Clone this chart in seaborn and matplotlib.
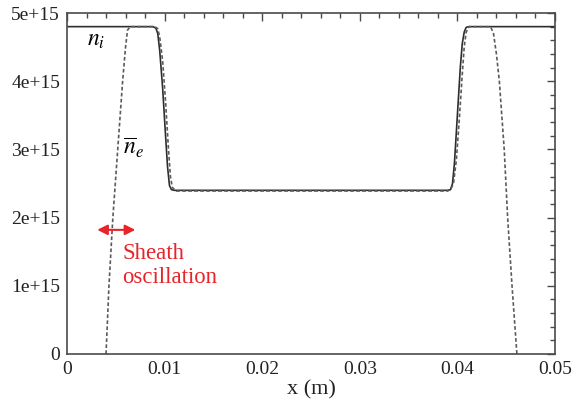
import matplotlib
matplotlib.use("Agg")
import matplotlib.pyplot as plt
import seaborn as sns
from matplotlib.ticker import MultipleLocator, FixedLocator, FixedFormatter

# Ion density n_i across the discharge gap (solid line)
x_ion = [0.0, 0.0088, 0.0091, 0.0093, 0.0095, 0.0098, 0.0101, 0.0103, 0.0105,
         0.0107, 0.0110, 0.0390, 0.0393, 0.0395, 0.0397, 0.0400, 0.0403,
         0.0405, 0.0407, 0.0409, 0.0412, 0.0500]
n_ion = [4.8e15, 4.8e15, 4.78e15, 4.7e15, 4.45e15, 3.9e15, 3.2e15, 2.75e15,
         2.47e15, 2.41e15, 2.4e15, 2.4e15, 2.41e15, 2.5e15, 2.8e15, 3.5e15,
         4.2e15, 4.55e15, 4.72e15, 4.79e15, 4.8e15, 4.8e15]

# Time-averaged electron density (dashed line)
x_elec = [0.0040, 0.0043, 0.0047, 0.0052, 0.0057, 0.0060, 0.0062, 0.0065,
          0.0090, 0.0093, 0.0095, 0.0098, 0.0101, 0.0104, 0.0106, 0.0108,
          0.0112, 0.0390, 0.0393, 0.0396, 0.0399, 0.0402, 0.0405, 0.0407,
          0.0409, 0.0412, 0.0434, 0.0437, 0.0440, 0.0443, 0.0448, 0.04515,
          0.0456, 0.0461]
n_elec = [0.0, 1.0e15, 2.0e15, 3.0e15, 4.0e15, 4.5e15, 4.75e15, 4.8e15,
          4.8e15, 4.77e15, 4.65e15, 4.3e15, 3.7e15, 3.0e15, 2.6e15, 2.44e15,
          2.39e15, 2.39e15, 2.41e15, 2.5e15, 2.85e15, 3.45e15, 4.1e15,
          4.5e15, 4.72e15, 4.8e15, 4.8e15, 4.7e15, 4.4e15, 4.0e15, 3.0e15,
          2.0e15, 1.0e15, 0.0]

x_ticks = [0.0, 0.01, 0.02, 0.03, 0.04, 0.05]
x_tick_labels = ["0", "0.01", "0.02", "0.03", "0.04", "0.05"]
y_ticks = [0.0, 1e15, 2e15, 3e15, 4e15, 5e15]
y_tick_labels = ["0", "1e+15", "2e+15", "3e+15", "4e+15", "5e+15"]

sns.set_style("white")
plt.rcParams["font.family"] = ["Liberation Serif", "DejaVu Serif"]
plt.rcParams["mathtext.fontset"] = "stix"

fig = plt.figure(figsize=(5.79, 4.04), dpi=100)
ax = fig.add_axes([0.1157, 0.1238, 0.8428, 0.844])

axis_col = "#4a4a4a"
sns.lineplot(x=x_ion, y=n_ion, ax=ax, color="#2e2e2e", linewidth=1.2,
             sort=False, estimator=None)
sns.lineplot(x=x_elec, y=n_elec, ax=ax, color="#5a5a5a", linewidth=1.2,
             linestyle=(0, (2.2, 1.4)), sort=False, estimator=None)

ax.set_xlim(0, 0.05)
ax.set_ylim(0, 5e15)
ax.xaxis.set_major_locator(FixedLocator(x_ticks))
ax.xaxis.set_major_formatter(FixedFormatter(x_tick_labels))
ax.yaxis.set_major_locator(FixedLocator(y_ticks))
ax.yaxis.set_major_formatter(FixedFormatter(y_tick_labels))
ax.xaxis.set_minor_locator(MultipleLocator(0.002))
ax.yaxis.set_minor_locator(MultipleLocator(0.2e15))

ax.tick_params(which="both", direction="in", top=True, right=True,
               color=axis_col, width=1.0, labelsize=14, labelcolor="#222222")
ax.tick_params(which="major", length=6, pad=5)
ax.tick_params(which="minor", length=3.5)
for sp in ax.spines.values():
    sp.set_color(axis_col)
    sp.set_linewidth(1.2)

ax.set_xlabel("x (m)", fontsize=16, color="#222222", labelpad=2)
ax.set_ylabel("")

ax.text(0.0021, 4.6e15, r"$n_i$", fontsize=17, color="black",
        ha="left", va="center")
ax.text(0.0057, 3.02e15, r"$\overline{n}_e$", fontsize=17, color="black",
        ha="left", va="center")

red = "#e8232a"
ax.annotate("", xy=(0.0031, 1.82e15), xytext=(0.0070, 1.82e15),
            arrowprops=dict(arrowstyle="<|-|>", color=red, lw=1.5,
                            mutation_scale=15, shrinkA=0, shrinkB=0))
ax.text(0.0057, 1.30e15, "Sheath\noscillation", fontsize=16.4, color=red,
        ha="left", va="center", linespacing=1.2)

fig.savefig("out.png", dpi=100, facecolor="white")
